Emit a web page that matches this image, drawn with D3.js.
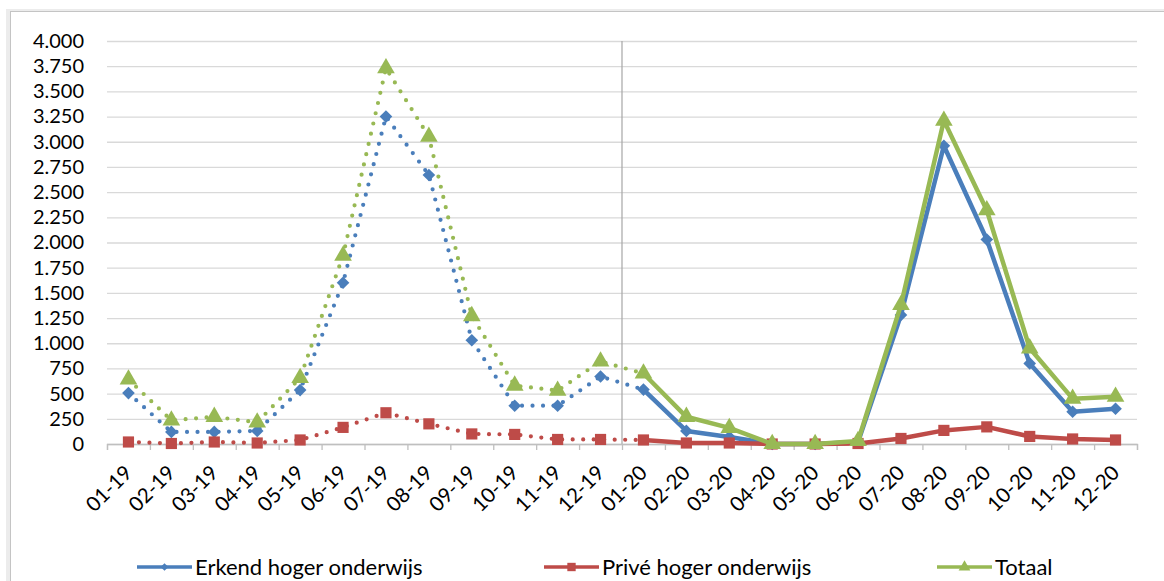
<!DOCTYPE html>
<html lang="nl">
<head>
  <meta charset="utf-8">
  <script src="https://d3js.org/d3.v7.min.js"></script>
  <title>Erkend en privé hoger onderwijs</title>
  <style>
    body { margin: 0; background: #fff; }
    text { font-family: Lato, "Open Sans", sans-serif; fill: #000; }
  </style>
</head>
<body>
<div id="chart"></div>
<script>
  // months (mm-yy)
  const months = ["01-19","02-19","03-19","04-19","05-19","06-19","07-19","08-19","09-19","10-19","11-19","12-19",
                  "01-20","02-20","03-20","04-20","05-20","06-20","07-20","08-20","09-20","10-20","11-20","12-20"];
  // values
  const erkend = [505, 120, 120, 130, 535, 1600, 3250, 2670, 1030, 380, 380, 670,
                  540, 130, 70, 0, 0, 20, 1280, 2960, 2030, 800, 320, 350];
  const prive  = [20, 5, 20, 10, 40, 165, 310, 200, 100, 95, 45, 45,
                  40, 10, 10, 0, 0, 5, 55, 135, 170, 75, 50, 40];
  const totaal = [640, 235, 270, 215, 655, 1870, 3730, 3050, 1270, 580, 530, 820,
                  700, 270, 160, 0, 0, 30, 1380, 3210, 2320, 950, 450, 470];
  const yTicks = [0, 250, 500, 750, 1000, 1250, 1500, 1750, 2000, 2250, 2500, 2750, 3000, 3250, 3500, 3750, 4000];
  const seriesNames = ["Erkend hoger onderwijs", "Privé hoger onderwijs", "Totaal"];
  const splitMonth = "01-20"; // dotted before, solid from here

  const W = 1164, H = 581;
  const margin = { top: 41, right: 27, bottom: 137, left: 107 };
  const width = W - margin.left - margin.right,
        height = H - margin.top - margin.bottom;

  const svg = d3.select("#chart").append("svg")
    .attr("width", W).attr("height", H);

  // outer frame of the chart object
  svg.append("rect")
    .attr("x", 8).attr("y", 11).attr("width", W).attr("height", H)
    .attr("fill", "none").attr("stroke", "#ececec").attr("stroke-width", 4);
  svg.append("rect")
    .attr("x", 10.5).attr("y", 11.5).attr("width", W).attr("height", H)
    .attr("fill", "#fff").attr("stroke", "#c4c4c4");

  const g = svg.append("g").attr("transform", `translate(${margin.left},${margin.top})`);

  const x = d3.scaleBand().domain(months).range([0, width]);
  const xEdge = d3.scaleLinear().domain([0, months.length]).range([0, width]);
  const y = d3.scaleLinear().domain([0, 4000]).range([height, 0]);

  const nl = d3.formatLocale({ decimal: ",", thousands: ".", grouping: [3], currency: ["€", ""] });
  const fmt = nl.format(",");

  // gridlines
  g.append("g")
    .call(d3.axisLeft(y).tickValues(yTicks).tickSize(-width).tickFormat(""))
    .call(a => a.select(".domain").remove())
    .call(a => a.selectAll("line").attr("stroke", "#d9d9d9").attr("stroke-width", 1.3));

  // y labels
  g.append("g")
    .call(d3.axisLeft(y).tickValues(yTicks).tickSize(0).tickPadding(23).tickFormat(fmt))
    .call(a => a.select(".domain").remove())
    .call(a => a.selectAll("text").attr("font-size", 20).attr("fill", "#000"));

  // year separator
  g.append("line")
    .attr("x1", x(splitMonth)).attr("x2", x(splitMonth))
    .attr("y1", 0).attr("y2", height)
    .attr("stroke", "#a6a6a6").attr("stroke-width", 1.2);

  // x axis line + boundary ticks
  g.append("g")
    .attr("transform", `translate(0,${height})`)
    .call(d3.axisBottom(xEdge).tickValues(d3.range(months.length + 1)).tickSize(6).tickFormat(""))
    .call(a => a.selectAll("line, path").attr("stroke", "#bfbfbf").attr("stroke-width", 1.3));

  // x labels
  g.append("g")
    .attr("transform", `translate(0,${height})`)
    .call(d3.axisBottom(x).tickSize(0).tickPadding(0))
    .call(a => a.select(".domain").remove())
    .call(a => a.selectAll("text")
      .attr("font-size", 20.5)
      .attr("text-anchor", "end")
      .attr("dy", 0)
      .attr("transform", "translate(5,30) rotate(-45)"));

  const colors = ["#4a7ebb", "#be4b48", "#98b954"];
  const data = [erkend, prive, totaal];
  const splitIdx = months.indexOf(splitMonth);

  const line = d3.line()
    .x(d => x(d.m) + x.bandwidth() / 2)
    .y(d => y(d.v));

  // diamond = square turned 45deg (Excel style)
  const symbols = [d3.symbolSquare, d3.symbolSquare, d3.symbolTriangle];
  const symRot = [45, 0, 0];
  const symSizes = [80, 125, 135];
  const legendSizes = [30, 70, 60];

  data.forEach((vals, s) => {
    const pts = vals.map((v, i) => ({ m: months[i], v: v }));
    // 2019 part, dotted
    g.append("path")
      .datum(pts.slice(0, splitIdx + 1))
      .attr("d", line)
      .attr("fill", "none")
      .attr("stroke", colors[s])
      .attr("stroke-width", 4.2)
      .attr("stroke-linecap", "round")
      .attr("stroke-dasharray", "0 10.5");
    // 2020 part, solid
    g.append("path")
      .datum(pts.slice(splitIdx))
      .attr("d", line)
      .attr("fill", "none")
      .attr("stroke", colors[s])
      .attr("stroke-width", 4.5)
      .attr("stroke-linejoin", "round");
    g.append("g").selectAll("path")
      .data(pts)
      .join("path")
      .attr("transform", d => `translate(${x(d.m) + x.bandwidth() / 2},${y(d.v)}) rotate(${symRot[s]})`)
      .attr("d", d3.symbol().type(symbols[s]).size(symSizes[s]))
      .attr("fill", colors[s]);
  });

  // legend
  const legendX = [137, 544, 937];
  const legendY = 567;
  const lg = svg.append("g");
  seriesNames.forEach((name, s) => {
    const item = lg.append("g").attr("transform", `translate(${legendX[s]},${legendY})`);
    item.append("line")
      .attr("x1", 0).attr("x2", 55).attr("y1", 0).attr("y2", 0)
      .attr("stroke", colors[s]).attr("stroke-width", 3.5);
    item.append("path")
      .attr("transform", `translate(27.5,0) rotate(${symRot[s]})`)
      .attr("d", d3.symbol().type(symbols[s]).size(legendSizes[s]))
      .attr("fill", colors[s]);
    item.append("text")
      .attr("x", 58).attr("y", 0).attr("dy", "0.35em")
      .attr("font-size", 22)
      .text(name);
  });
</script>
</body>
</html>
